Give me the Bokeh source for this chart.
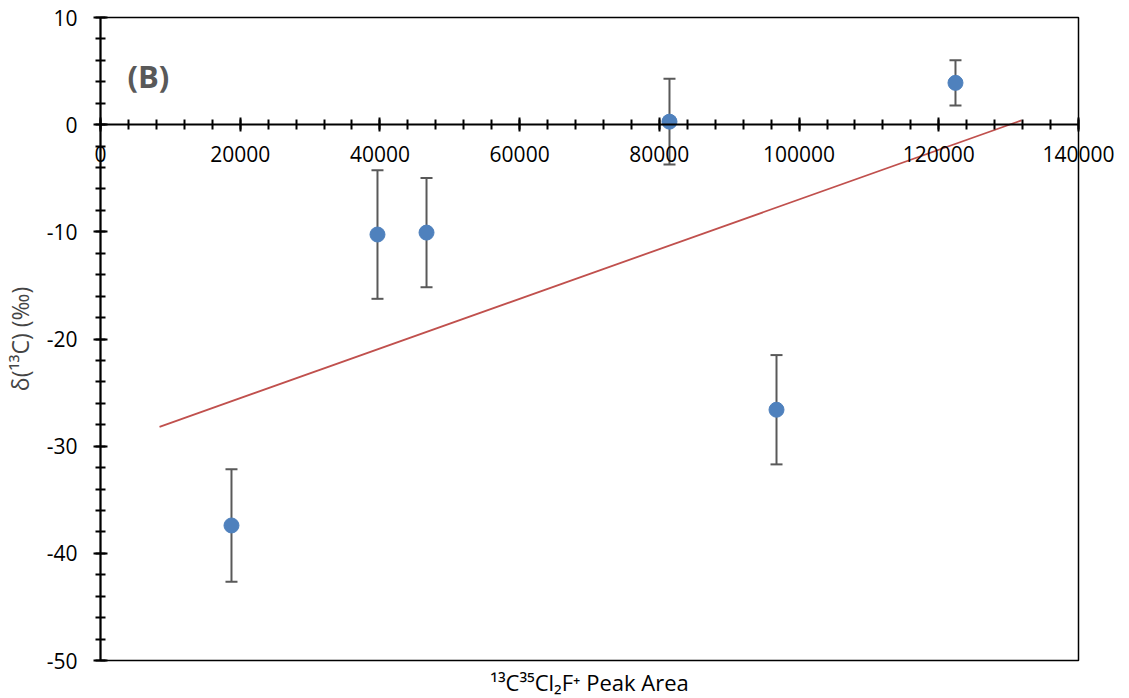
from bokeh.plotting import figure
from bokeh.models import (ColumnDataSource, Whisker, LinearAxis, FixedTicker,
                          Label, Range1d, BoxAnnotation)
from bokeh.embed import file_html
from bokeh.resources import INLINE

# ---- data ----
peak_area = [18750, 39650, 46670, 81450, 96770, 122390]
delta13c = [-37.4, -10.25, -10.07, 0.28, -26.6, 3.9]
err = [5.25, 6.0, 5.1, 4.0, 5.1, 2.1]
trend_x = [8450, 131840]
trend_y = [-28.2, 0.4]
x_ticks = [0, 20000, 40000, 60000, 80000, 100000, 120000, 140000]
x_tick_labels = ["0", "20000", "40000", "60000", "80000", "100000", "120000", "140000"]
y_ticks = [-50, -40, -30, -20, -10, 0, 10]
y_tick_labels = ["-50", "-40", "-30", "-20", "-10", "0", "10"]
x_title = "¹³C³⁵Cl₂F⁺ Peak Area"
y_title = "δ(¹³C) (‰)"

FONT = "Open Sans"
X_MIN, X_MAX, Y_MIN, Y_MAX = 0, 140000, -50, 10

# ---- layout: the frame fills the canvas so that axis texts are not clipped ----
W, H = 1120, 698
BOX_L, BOX_R, BOX_T, BOX_B = 100, 1078, 17, 660   # pixel edges of the plot box
sx = (X_MAX - X_MIN) / (BOX_R - BOX_L)
sy = (Y_MAX - Y_MIN) / (BOX_B - BOX_T)
x_range = Range1d(X_MIN - BOX_L * sx, X_MAX + (W - BOX_R) * sx)
y_range = Range1d(Y_MIN - (H - BOX_B) * sy, Y_MAX + BOX_T * sy)

src = ColumnDataSource(dict(
    x=peak_area, y=delta13c,
    lo=[v - e for v, e in zip(delta13c, err)],
    hi=[v + e for v, e in zip(delta13c, err)],
))

p = figure(width=W, height=H, output_backend="svg", toolbar_location=None,
           x_range=x_range, y_range=y_range,
           x_axis_location=None, y_axis_location=None,
           min_border=0)
p.xgrid.visible = False
p.ygrid.visible = False
p.outline_line_color = None
p.background_fill_color = "white"

# plot box
p.add_layout(BoxAnnotation(left=X_MIN, right=X_MAX, bottom=Y_MIN, top=Y_MAX,
                           fill_alpha=0, line_color="black", line_alpha=1.0,
                           line_width=1.5, level="underlay"))


def style_axis(ax):
    ax.axis_line_width = 2
    ax.axis_line_color = "black"
    ax.major_tick_in = 7
    ax.major_tick_out = 7
    ax.minor_tick_in = 5
    ax.minor_tick_out = 5
    ax.major_tick_line_width = 2
    ax.minor_tick_line_width = 2
    ax.major_label_text_font = FONT
    ax.major_label_text_font_size = "21px"
    ax.major_label_text_color = "black"


# y axis at x = 0
ya = LinearAxis(fixed_location=X_MIN, bounds=(Y_MIN, Y_MAX))
ya.ticker = FixedTicker(ticks=y_ticks, minor_ticks=list(range(-50, 11, 2)))
ya.major_label_overrides = dict(zip(y_ticks, y_tick_labels))
style_axis(ya)
ya.major_label_standoff = 16
ya.axis_label = y_title
ya.axis_label_text_font = FONT
ya.axis_label_text_font_style = "normal"
ya.axis_label_text_font_size = "23px"
ya.axis_label_standoff = 8
p.add_layout(ya, "left")

# x axis crossing at y = 0
xa = LinearAxis(fixed_location=0, bounds=(X_MIN, X_MAX))
xa.ticker = FixedTicker(ticks=x_ticks, minor_ticks=list(range(0, 140001, 4000)))
xa.major_label_overrides = dict(zip(x_ticks, x_tick_labels))
style_axis(xa)
xa.major_label_standoff = 14
p.add_layout(xa, "below")

# x axis title below the box
p.add_layout(Label(x=(X_MIN + X_MAX) / 2, y=Y_MIN, text=x_title, y_offset=-21,
                   text_align="center", text_baseline="middle",
                   text_font=FONT, text_font_size="22px", text_color="black"))

# trend line
p.line(trend_x, trend_y, line_color="#C0504D", line_width=1.8)

# error bars
wh = Whisker(source=src, base="x", lower="lo", upper="hi",
             line_color="#595959", line_width=2)
for h in (wh.upper_head, wh.lower_head):
    h.size = 12
    h.line_color = "#595959"
    h.line_width = 2
p.add_layout(wh)

# points
p.scatter("x", "y", source=src, size=15, fill_color="#4F81BD",
          line_color="#4F81BD")

p.add_layout(Label(x=3865, y=4.57, text="(B)", text_font=FONT,
                   text_font_size="31px", text_font_style="bold",
                   text_color="#595959", text_baseline="middle"))

open("out.html", "w").write(file_html(p, INLINE))
